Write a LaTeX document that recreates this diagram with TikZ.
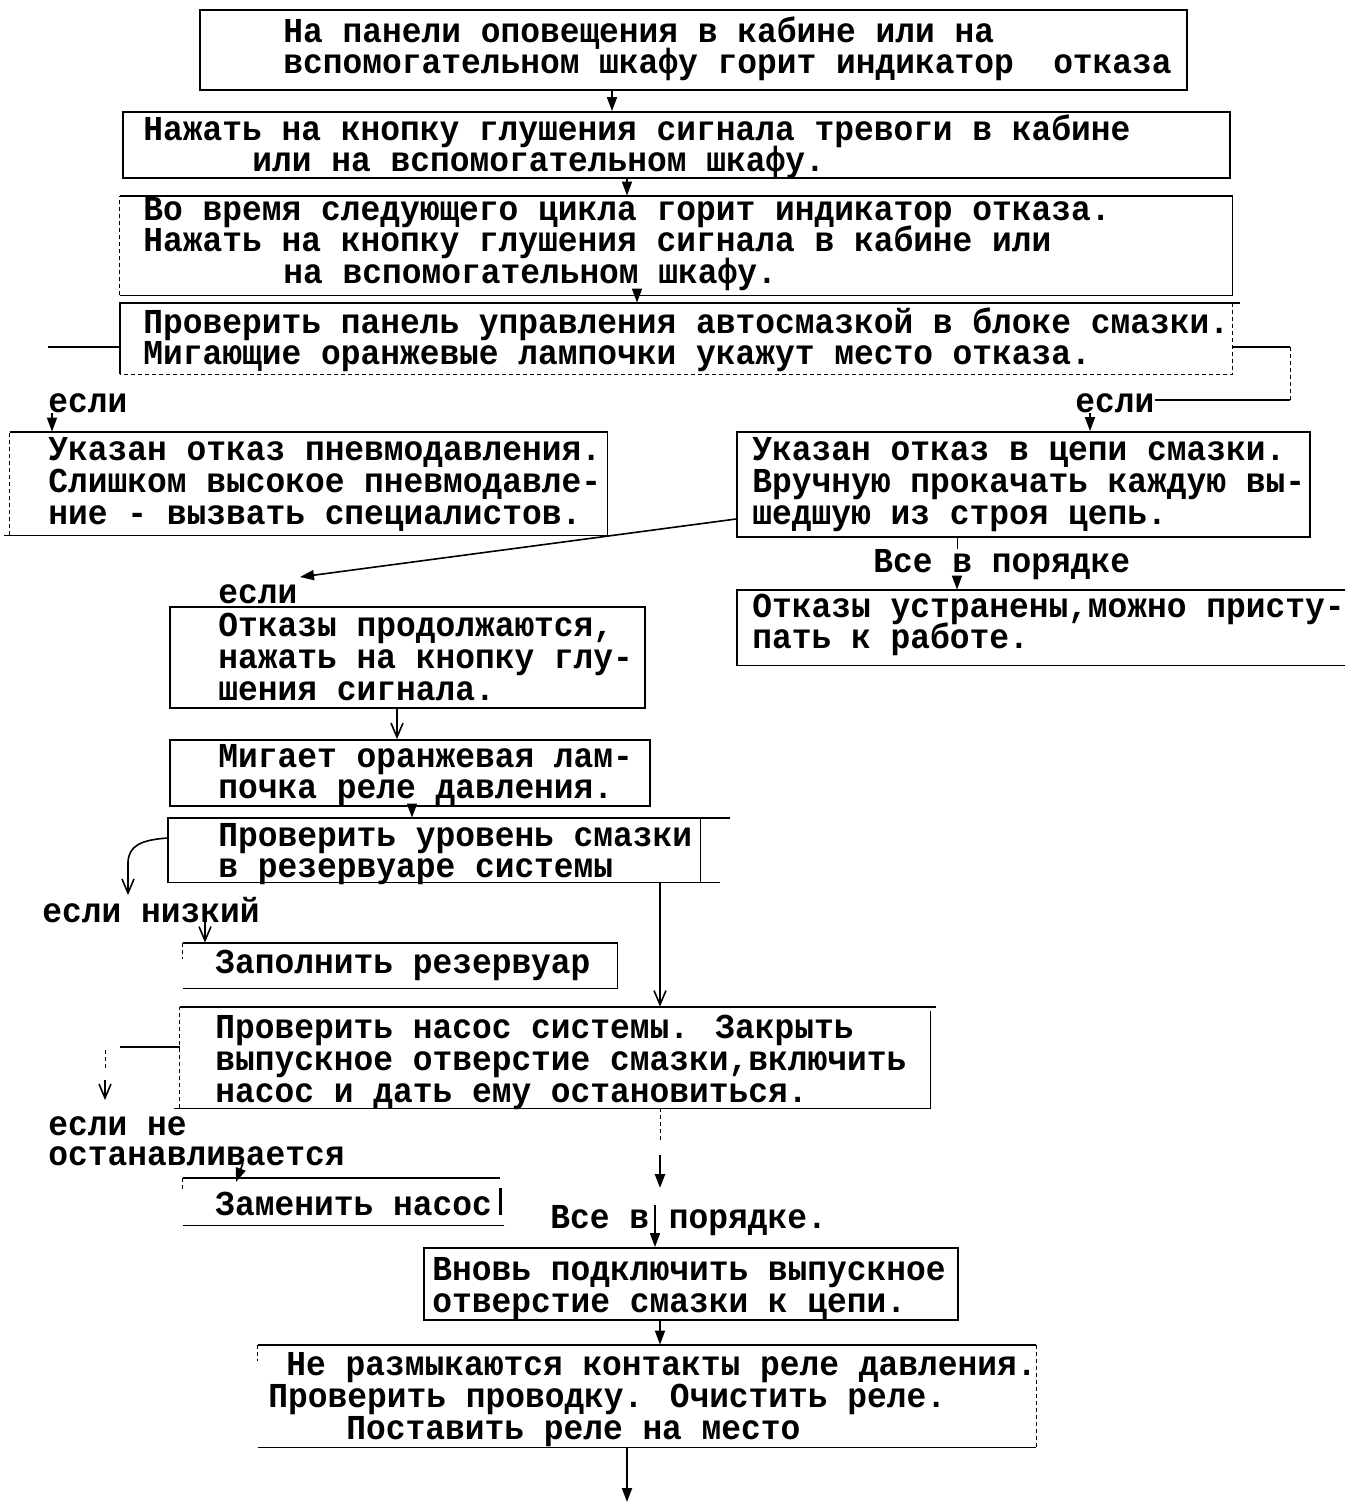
\documentclass[tikz,border=0pt]{standalone}
\usepackage{fontspec}
\usetikzlibrary{arrows.meta,fit}
\newfontfamily\twfam[FakeStretch=0.94]{Liberation Mono}
\newcommand\twfont{\twfam\bfseries\fontsize{17.5pt}{15.75pt}\selectfont}
\newcommand\tblock[2][15.75pt]{\vtop{\baselineskip=#1\lineskiplimit=-50pt\lineskip=0pt #2}}
\newcommand\tl[2][0pt]{\hbox{\kern#1 #2}}
\tikzset{
  area/.style={inner sep=0pt, draw=none},
  box/.style={inner sep=0pt, draw, line width=0.9pt},
  edge/.style={line width=0.9pt},
  faint/.style={line width=0.5pt, dash pattern=on 2pt off 1.5pt},
  txt/.style={inner sep=0pt, anchor=base west, font=\twfont},
  arr/.style={line width=0.8pt, -{Triangle[width=5pt,length=7pt]}},
  varr/.style={line width=0.8pt, -{Straight Barb[width=6pt,length=7pt]}},
}
\begin{document}
\begin{tikzpicture}[x=0.5pt,y=-0.5pt]
\useasboundingbox[fill=white] (0,0) rectangle (1354,1505);

% ---------- boxes ----------
\node[box,  fit={(200,10)(1187,90)}] (b1) {};
\node[box,  fit={(123,112)(1230,178)}] (b2) {};
\node[area, fit={(120,196)(1232,295)}] (b3) {};
\node[area, fit={(120,303)(1232,374)}] (b4) {};
\node[area, fit={(10,432)(607,535)}] (b5) {};
\node[box,  fit={(737,432)(1310,537)}] (b6) {};
\node[area, fit={(737,590)(1345,665)}] (b7) {};
\node[box,  fit={(170,607)(645,708)}] (b8) {};
\node[box,  fit={(170,740)(650,806)}] (b9) {};
\node[area, fit={(168,818)(700,882)}] (b10) {};
\node[area, fit={(183,943)(617,988)}] (b11) {};
\node[area, fit={(180,1007)(930,1108)}] (b12) {};
\node[area, fit={(183,1178)(500,1225)}] (b13) {};
\node[box,  fit={(424,1248)(958,1320)}] (b14) {};
\node[area, fit={(258,1345)(1036,1447)}] (b15) {};

% box outlines drawn side by side
\draw[edge] (b3.north west) -- (b3.north east) -- (b3.south east) -- (b3.south west);
\draw[faint] (b3.south west) -- (b3.north west);
\draw[edge] (b4.south west) -- (b4.north west) -- ([xshift=4pt]b4.north east);
\draw[faint] (b4.north east) -- (b4.south east) -- (b4.south west);
\draw[edge] (b5.north west) -- (b5.north east) -- (b5.south east) -- ([xshift=-3pt]b5.south west);
\draw[faint] (b5.south west) -- (b5.north west);
\draw[edge] (b7.north east) -- (b7.north west) -- (b7.south west) -- (b7.south east);
\draw[edge] ([xshift=15pt]b10.north east) -- (b10.north west) -- (b10.south west) -- ([xshift=10pt]b10.south east);
\draw[edge] (b10.north east) -- (b10.south east);
\draw[edge] (b11.north west) -- (b11.north east) -- (b11.south east) -- (b11.south west);
\draw[faint] (b11.north west) -- ([yshift=-8pt]b11.north west);
\draw[edge] (b12.north west) -- ([xshift=3pt]b12.north east);
\draw[edge] ([yshift=-2pt]b12.north east) -- (b12.south east) -- ([xshift=-3pt]b12.south west);
\draw[faint] (b12.south west) -- (b12.north west);
\draw[edge] (b13.north west) -- (b13.north east);
\draw[line width=1.6pt] ([yshift=-5pt]b13.north east) -- ([yshift=5pt]b13.south east);
\draw[edge] ([xshift=2pt]b13.south east) -- (b13.south west);
\draw[faint] (b13.north west) -- ([yshift=-6pt]b13.north west);
\draw[edge] (b15.north west) -- (b15.north east);
\draw[edge] (b15.south west) -- (b15.south east);
\draw[faint] (b15.north east) -- (b15.south east);
\draw[faint] (b15.north west) -- ([yshift=-8pt]b15.north west);

% ---------- texts ----------
\node[txt] (t1) at (283,42) {\tblock{\tl{На панели оповещения в кабине или на}\tl{вспомогательном шкафу горит индикатор~ отказа}}};
\node[txt] (t2) at (143,140) {\tblock{\tl{Нажать на кнопку глушения сигнала тревоги в кабине}\tl[54.5pt]{или на вспомогательном шкафу.}}};
\node[txt] (t3) at (143,220) {\tblock{\tl{Во время следующего цикла горит индикатор отказа.}\tl{Нажать на кнопку глушения сигнала в кабине или}\tl[70pt]{на вспомогательном шкафу.}}};
\node[txt] (t4) at (143,333) {\tblock{\tl{Проверить панель управления автосмазкой в блоке смазки.}\tl{Мигающие оранжевые лампочки укажут место отказа.}}};
\node[txt] (e1) at (48,412) {если};
\node[txt] (e2) at (1075,412) {если};
\node[txt] (t5) at (48,460) {\tblock[16pt]{\tl{Указан отказ пневмодавления.}\tl{Слишком высокое пневмодавле-}\tl{ние - вызвать специалистов.}}};
\node[txt] (t6) at (752,460) {\tblock[16pt]{\tl{Указан отказ в цепи смазки.}\tl{Вручную прокачать каждую вы-}\tl{шедшую из строя цепь.}}};
\node[txt] (ok1) at (873,572) {Все в порядке};
\node[txt] (t7) at (752,617) {\tblock{\tl{Отказы устранены,можно присту-}\tl{пать к работе.}}};
\node[txt] (e3) at (218,603) {если};
\node[txt] (t8) at (218,636) {\tblock[16pt]{\tl{Отказы продолжаются,}\tl{нажать на кнопку глу-}\tl{шения сигнала.}}};
\node[txt] (t9) at (218,767) {\tblock{\tl{Мигает оранжевая лам-}\tl{почка реле давления.}}};
\node[txt] (t10) at (218,846) {\tblock{\tl{Проверить уровень смазки}\tl{в резервуаре системы}}};
\node[txt] (e4) at (42,922) {если низкий};
\node[txt] (t11) at (215,973) {Заполнить резервуар};
\node[txt] (t12) at (215,1038) {\tblock[16pt]{\tl{Проверить насос системы. Закрыть}\tl{выпускное отверстие смазки,включить}\tl{насос и дать ему остановиться.}}};
\node[txt] (e5) at (48,1135) {\tblock[15pt]{\tl{если не}\tl{останавливается}}};
\node[txt] (t13) at (215,1215) {Заменить насос};
\node[txt] (ok2) at (550,1228) {Все в порядке.};
\node[txt] (t14) at (432,1280) {\tblock[16pt]{\tl{Вновь подключить выпускное}\tl{отверстие смазки к цепи.}}};
\node[txt] (t15) at (268,1375) {\tblock[16pt]{\tl[9pt]{Не размыкаются контакты реле давления.}\tl{Проверить проводку. Очистить реле.}\tl[39pt]{Поставить реле на место}}};

% ---------- connector coordinates ----------
\coordinate (k1) at (612,0);
\coordinate (k2) at (627,0);
\coordinate (k3) at (637,0);
\coordinate (k5) at (52,0);
\coordinate (k6) at (1090,0);
\coordinate (k7) at (957,0);
\coordinate (k8) at (397,0);
\coordinate (k9) at (412,0);
\coordinate (k11) at (205,0);
\coordinate (k12) at (660,0);
\coordinate (k14) at (655,0);
\coordinate (k15) at (660,0);
\coordinate (l4) at (48,347);
\coordinate (r4a) at (1290,347);
\coordinate (r4b) at (1290,400);
\coordinate (r4c) at (1155,400);
\coordinate (d6) at (0,519);
\coordinate (a3) at (300,577);
\coordinate (c10) at (0,838);
\coordinate (l10) at (128,895);
\coordinate (c12) at (0,1047);
\coordinate (l12a) at (120,1047);
\coordinate (l12b) at (105,1050);
\coordinate (l12c) at (105,1068);
\coordinate (l12d) at (105,1080);
\coordinate (l12e) at (105,1100);
\coordinate (a13s) at (243,1163);
\coordinate (a13) at (236,1182);
\coordinate (m12) at (660,1140);
\coordinate (m12b) at (660,1155);
\coordinate (m12c) at (660,1188);
\coordinate (fin) at (627,1502);

% ---------- connectors ----------
\draw[arr] (b1.south -| k1) -- (b2.north -| k1);
\draw[arr] (b2.south -| k2) -- (b3.north -| k2);
\draw[arr] (b3.south -| k3) -- (b4.north -| k3);
\draw[edge] (l4 -| b4.west) -- (l4);
\draw[edge] (r4a -| b4.east) -- (r4a);
\draw[faint] (r4a) -- (r4b);
\draw[edge] (r4b) -- (r4c);
\draw[arr] (e1.south -| k5) -- (b5.north -| k5);
\draw[arr] (e2.south -| k6) -- (b6.north -| k6);
\draw[arr] (d6 -| b6.west) -- (a3);
\draw[line width=0.5pt] (b6.south -| k7) -- (ok1.north -| k7);
\draw[arr] (ok1.south -| k7) -- (b7.north -| k7);
\draw[varr] (b8.south -| k8) -- (b9.north -| k8);
\draw[arr] (b9.south -| k9) -- (b10.north -| k9);
\draw[varr] (c10 -| b10.west) .. controls (140,840) and (129,846) .. (128,862) -- (l10);
\draw[varr] (e4.base -| k11) -- (b11.north -| k11);
\draw[varr] (b10.south -| k12) -- (b12.north -| k12);
\draw[edge] (c12 -| b12.west) -- (l12a);
\draw[faint] (l12b) -- (l12c);
\draw[varr] (l12d) -- (l12e);
\draw[arr] (a13s) -- (a13);
\draw[faint] (b12.south -| k12) -- (m12);
\draw[arr, line width=1.2pt] (m12b) -- (m12c);
\draw[arr] (ok2.north -| k14) -- (b14.north -| k14);
\draw[arr] (b14.south -| k15) -- (b15.north -| k15);
\draw[arr, line width=1pt] (b15.south -| fin) -- (fin);
\end{tikzpicture}
\end{document}
